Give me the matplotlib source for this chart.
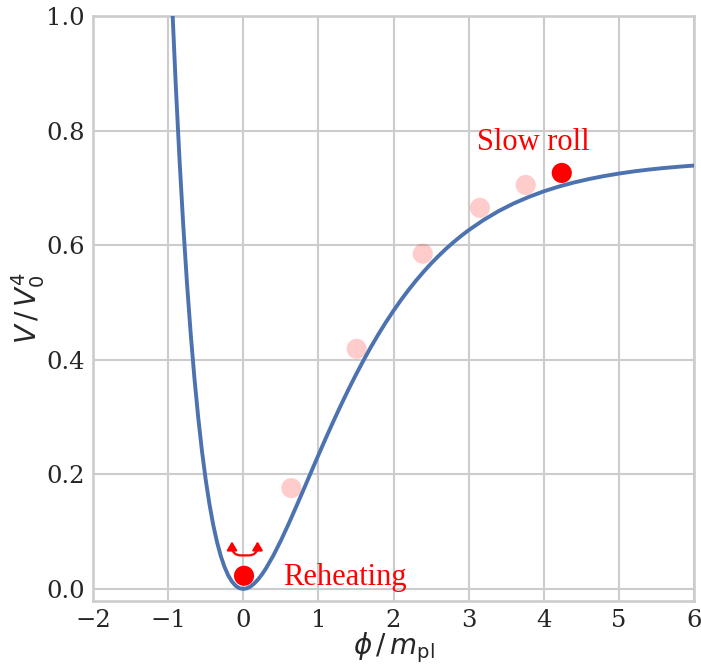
import matplotlib
matplotlib.use("Agg")
import matplotlib.pyplot as plt
import seaborn as sns
from matplotlib.patches import FancyArrowPatch

# potential curve
phi = [-0.95, -0.9, -0.85, -0.8, -0.75, -0.7, -0.65, -0.6, -0.55, -0.5, -0.45, -0.4, -0.35,
       -0.3, -0.25, -0.2, -0.15, -0.1, -0.05, 0.0, 0.05, 0.1, 0.15, 0.2, 0.25, 0.3,
       0.4, 0.5, 0.6, 0.7, 0.8, 0.9, 1.0, 1.1, 1.2, 1.3, 1.4, 1.5, 1.6, 1.7, 1.8, 1.9,
       2.0, 2.1, 2.2, 2.3, 2.4, 2.5, 2.6, 2.7, 2.8, 2.9, 3.0,
       3.2, 3.4, 3.6, 3.8, 4.0, 4.2, 4.4, 4.6, 4.8, 5.0, 5.2, 5.4, 5.6, 5.8, 6.0]
V = [1.0303, 0.8832, 0.7527, 0.6371, 0.5353, 0.4459, 0.3677, 0.2997, 0.2410, 0.1907, 0.1479, 0.1119, 0.0821,
     0.0578, 0.0385, 0.0236, 0.0127, 0.0054, 0.0013, 0.0, 0.0012, 0.0046, 0.0100, 0.0170, 0.0256, 0.0354,
     0.0582, 0.0843, 0.1125, 0.1422, 0.1725, 0.2031, 0.2335, 0.2635, 0.2926, 0.3208, 0.3480, 0.3740, 0.3988, 0.4224, 0.4447, 0.4658,
     0.4856, 0.5043, 0.5218, 0.5382, 0.5535, 0.5679, 0.5812, 0.5937, 0.6053, 0.6161, 0.6261,
     0.6440, 0.6595, 0.6728, 0.6841, 0.6939, 0.7022, 0.7093, 0.7153, 0.7205, 0.7249, 0.7287, 0.7319, 0.7346, 0.7369, 0.7389]

# faded trail of the rolling ball
trail_x = [0.64, 1.51, 2.39, 3.15, 3.76]
trail_y = [0.176, 0.419, 0.585, 0.665, 0.705]

# the two highlighted balls
ball_x = [0.01, 4.24]
ball_y = [0.023, 0.726]

sns.set_theme(style="whitegrid", context="talk", font="serif")

fig = plt.figure(figsize=(7.01, 6.64), dpi=100)
ax = fig.add_axes([0.1327, 0.0949, 0.8573, 0.8811])

ax.plot(phi, V, color="#4C72B0", lw=2.8, zorder=3)
ax.scatter(trail_x, trail_y, s=210, color="red", alpha=0.2, edgecolors="none", zorder=2)
ax.scatter(ball_x, ball_y, s=210, color="red", edgecolors="none", zorder=4)

# little U-shaped oscillation arrow above the reheating ball
arc = FancyArrowPatch((-0.15, 0.083), (0.19, 0.083),
                      connectionstyle="arc,angleA=-90,angleB=-90,armA=14,armB=14,rad=9",
                      arrowstyle="<|-|>,head_length=5,head_width=3",
                      color="red", lw=1.6, shrinkA=0, shrinkB=0, zorder=4)
ax.add_patch(arc)

ax.text(0.53, 0.007, "Reheating", color="red", fontsize=22, family="Liberation Serif")
ax.text(3.11, 0.766, "Slow roll", color="red", fontsize=22, family="Liberation Serif")

ax.set_xlim(-2, 6)
ax.set_ylim(-0.021, 1.0)
ax.set_xticks(range(-2, 7))
ax.set_yticks([0.0, 0.2, 0.4, 0.6, 0.8, 1.0])
ax.tick_params(labelsize=17.5, length=0, pad=6)
ax.set_xlabel(r"$\phi\,/\,m_{\rm pl}$", fontsize=20, labelpad=-1.5)
ax.set_ylabel(r"$V\,/\,V_0^4$", fontsize=20, labelpad=-0.5)

fig.savefig("out.png", dpi=100)
